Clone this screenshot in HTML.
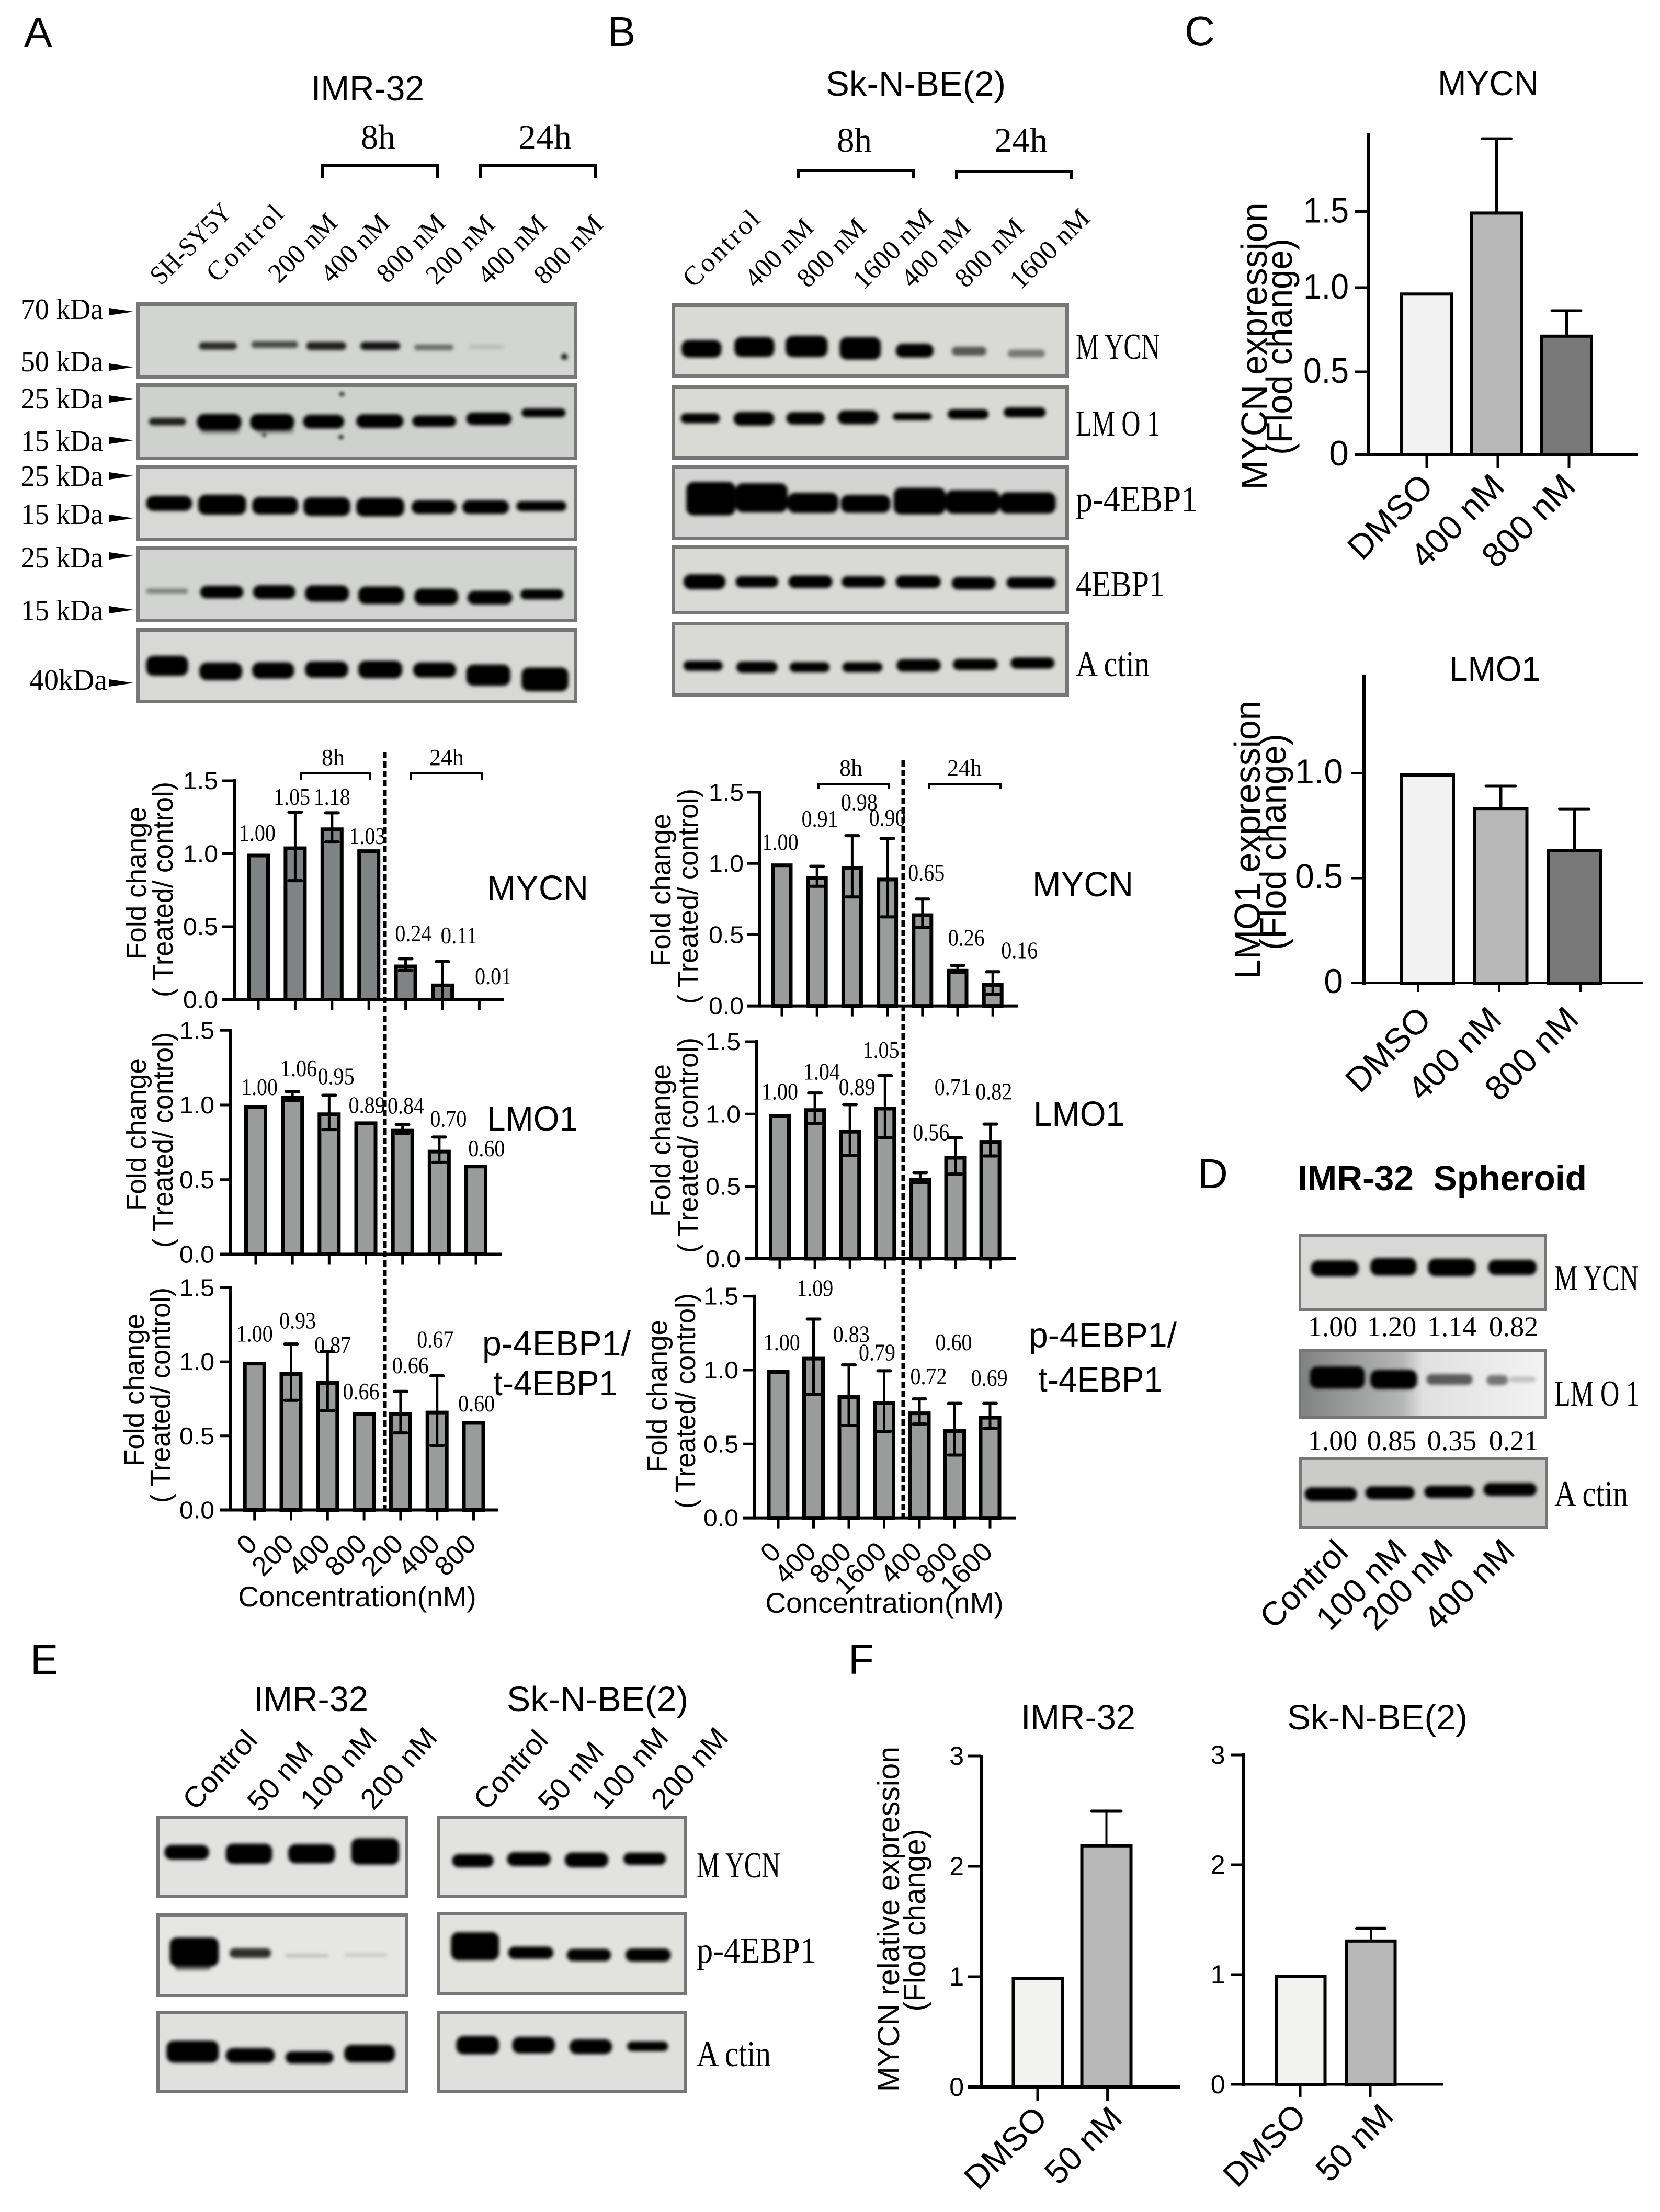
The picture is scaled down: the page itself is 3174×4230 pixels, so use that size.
<!DOCTYPE html>
<html lang="en">
<head>
<meta charset="utf-8">
<title>Western blots and fold change charts</title>
<style>
html,body{margin:0;padding:0;background:#fff;}
svg{display:block;}
text{fill:#000;}
.s{font-family:"Liberation Sans",sans-serif;}
.f{font-family:"Liberation Serif",serif;}
</style>
</head>
<body>
<svg id="fig" xmlns="http://www.w3.org/2000/svg" width="3174" height="4230" viewBox="0 0 3174 4230">
<defs>
<filter id="bl" x="-20%" y="-60%" width="140%" height="220%"><feGaussianBlur stdDeviation="3.5"/></filter>
<linearGradient id="d2g" x1="0" y1="0" x2="1" y2="0"><stop offset="0" stop-color="#7f8181"/><stop offset="0.2" stop-color="#9a9b9b"/><stop offset="0.42" stop-color="#b5b6b6"/><stop offset="0.5" stop-color="#e0e0e0"/><stop offset="1" stop-color="#f3f3f3"/></linearGradient>
</defs>
<rect width="3174" height="4230" fill="#fff"/>
<g id="blots"></g>
<g id="charts"></g>

<g class="s" font-size="80">
<text x="46" y="89">A</text>
<text x="1162" y="88">B</text>
<text x="2265" y="87">C</text>
<text x="2290" y="2272">D</text>
<text x="58" y="3201">E</text>
<text x="1622" y="3201">F</text>
</g>

<g class="s" font-size="67">
<text x="595" y="192" textLength="216" lengthAdjust="spacingAndGlyphs">IMR-32</text>
<text x="1579" y="183" textLength="344" lengthAdjust="spacingAndGlyphs">Sk-N-BE(2)</text>
<text x="2749" y="182" textLength="193" lengthAdjust="spacingAndGlyphs">MYCN</text>
<text x="2771" y="1302" textLength="174" lengthAdjust="spacingAndGlyphs">LMO1</text>
<text x="2481" y="2276" textLength="553" lengthAdjust="spacingAndGlyphs" font-weight="bold">IMR-32&#160;&#160;Spheroid</text>
<text x="485" y="3272" textLength="219" lengthAdjust="spacingAndGlyphs">IMR-32</text>
<text x="969" y="3272" textLength="347" lengthAdjust="spacingAndGlyphs">Sk-N-BE(2)</text>
<text x="1952" y="3307" textLength="219" lengthAdjust="spacingAndGlyphs">IMR-32</text>
<text x="2461" y="3307" textLength="345" lengthAdjust="spacingAndGlyphs">Sk-N-BE(2)</text>
</g>

<g class="f" font-size="66">
<text x="690" y="284" textLength="66" lengthAdjust="spacingAndGlyphs">8h</text>
<text x="991" y="284" textLength="102" lengthAdjust="spacingAndGlyphs">24h</text>
<text x="1600" y="290" textLength="67" lengthAdjust="spacingAndGlyphs">8h</text>
<text x="1901" y="290" textLength="102" lengthAdjust="spacingAndGlyphs">24h</text>
</g>
<g fill="none" stroke="#000" stroke-width="6">
<polyline points="617,341 617,317 836,317 836,341"/>
<polyline points="919,341 919,317 1138,317 1138,341"/>
<polyline points="1527,341 1527,326 1746,326 1746,341"/>
<polyline points="1829,343 1829,328 2049,328 2049,343"/>
</g>

<g class="f" font-size="52" text-anchor="end">
<text transform="translate(446,409) rotate(-45)" textLength="196" lengthAdjust="spacingAndGlyphs">SH-SY5Y</text>
<text transform="translate(545,412) rotate(-45)" textLength="184" lengthAdjust="spacing">Control</text>
<text transform="translate(648,429) rotate(-45)" textLength="162" lengthAdjust="spacingAndGlyphs">200 nM</text>
<text transform="translate(748,429) rotate(-45)" textLength="162" lengthAdjust="spacingAndGlyphs">400 nM</text>
<text transform="translate(855,429) rotate(-45)" textLength="162" lengthAdjust="spacingAndGlyphs">800 nM</text>
<text transform="translate(949,432) rotate(-45)" textLength="162" lengthAdjust="spacingAndGlyphs">200 nM</text>
<text transform="translate(1048,432) rotate(-45)" textLength="162" lengthAdjust="spacingAndGlyphs">400 nM</text>
<text transform="translate(1156,432) rotate(-45)" textLength="162" lengthAdjust="spacingAndGlyphs">800 nM</text>
</g>
<g class="f" font-size="52" text-anchor="end">
<text transform="translate(1456,422) rotate(-45)" textLength="184" lengthAdjust="spacing">Control</text>
<text transform="translate(1559,438) rotate(-45)" textLength="162" lengthAdjust="spacingAndGlyphs">400 nM</text>
<text transform="translate(1659,438) rotate(-45)" textLength="162" lengthAdjust="spacingAndGlyphs">800 nM</text>
<text transform="translate(1787,420) rotate(-45)" textLength="192" lengthAdjust="spacingAndGlyphs">1600 nM</text>
<text transform="translate(1858,438) rotate(-45)" textLength="162" lengthAdjust="spacingAndGlyphs">400 nM</text>
<text transform="translate(1961,438) rotate(-45)" textLength="162" lengthAdjust="spacingAndGlyphs">800 nM</text>
<text transform="translate(2087,420) rotate(-45)" textLength="192" lengthAdjust="spacingAndGlyphs">1600 nM</text>
</g>

<g class="f" font-size="56">
<text x="40" y="610" textLength="157" lengthAdjust="spacingAndGlyphs">70 kDa</text>
<text x="40" y="710" textLength="157" lengthAdjust="spacingAndGlyphs">50 kDa</text>
<text x="40" y="781" textLength="157" lengthAdjust="spacingAndGlyphs">25 kDa</text>
<text x="40" y="862" textLength="157" lengthAdjust="spacingAndGlyphs">15 kDa</text>
<text x="40" y="929" textLength="157" lengthAdjust="spacingAndGlyphs">25 kDa</text>
<text x="40" y="1002" textLength="157" lengthAdjust="spacingAndGlyphs">15 kDa</text>
<text x="40" y="1085" textLength="157" lengthAdjust="spacingAndGlyphs">25 kDa</text>
<text x="40" y="1186" textLength="157" lengthAdjust="spacingAndGlyphs">15 kDa</text>
<text x="56" y="1319" textLength="149" lengthAdjust="spacingAndGlyphs">40kDa</text>
</g>
<g fill="#000">
<polygon points="209,589 255,596 209,603"/>
<polygon points="209,695 255,702 209,709"/>
<polygon points="209,756 255,763 209,770"/>
<polygon points="209,835 255,842 209,849"/>
<polygon points="209,903 255,910 209,917"/>
<polygon points="209,984 255,991 209,998"/>
<polygon points="209,1056 255,1063 209,1070"/>
<polygon points="209,1159 255,1166 209,1173"/>
<polygon points="209,1299 255,1306 209,1313"/>
</g>

<g class="f" font-size="70">
<text x="2057" y="686" textLength="161" lengthAdjust="spacingAndGlyphs">M YCN</text>
<text x="2057" y="833" textLength="161" lengthAdjust="spacingAndGlyphs">LM O 1</text>
<text x="2057" y="978" textLength="233" lengthAdjust="spacingAndGlyphs">p-4EBP1</text>
<text x="2057" y="1140" textLength="170" lengthAdjust="spacingAndGlyphs">4EBP1</text>
<text x="2057" y="1293" textLength="141" lengthAdjust="spacingAndGlyphs">A ctin</text>
<text x="2972" y="2467" textLength="161" lengthAdjust="spacingAndGlyphs">M YCN</text>
<text x="2972" y="2688" textLength="162" lengthAdjust="spacingAndGlyphs">LM O 1</text>
<text x="2972" y="2880" textLength="141" lengthAdjust="spacingAndGlyphs">A ctin</text>
<text x="1332" y="3590" textLength="160" lengthAdjust="spacingAndGlyphs">M YCN</text>
<text x="1332" y="3753" textLength="229" lengthAdjust="spacingAndGlyphs">p-4EBP1</text>
<text x="1332" y="3951" textLength="142" lengthAdjust="spacingAndGlyphs">A ctin</text>
</g>

<g class="f" font-size="54" text-anchor="middle">
<text x="2548" y="2555">1.00</text>
<text x="2661" y="2555">1.20</text>
<text x="2776" y="2555">1.14</text>
<text x="2894" y="2555">0.82</text>
<text x="2548" y="2773">1.00</text>
<text x="2661" y="2773">0.85</text>
<text x="2776" y="2773">0.35</text>
<text x="2894" y="2773">0.21</text>
</g>
<g class="s" font-size="64" text-anchor="end">
<text transform="translate(2581,2972) rotate(-45)">Control</text>
<text transform="translate(2694,2970) rotate(-45)">100 nM</text>
<text transform="translate(2782,2970) rotate(-45)">200 nM</text>
<text transform="translate(2900,2970) rotate(-45)">400 nM</text>
</g>
<g class="s" font-size="56" text-anchor="end">
<text transform="translate(495,3330) rotate(-48)">Control</text>
<text transform="translate(602,3352) rotate(-48)">50 nM</text>
<text transform="translate(724,3325) rotate(-48)">100 nM</text>
<text transform="translate(839,3325) rotate(-48)">200 nM</text>
<text transform="translate(1051,3330) rotate(-48)">Control</text>
<text transform="translate(1158,3352) rotate(-48)">50 nM</text>
<text transform="translate(1281,3325) rotate(-48)">100 nM</text>
<text transform="translate(1395,3325) rotate(-48)">200 nM</text>
</g>

<g class="s" font-size="54" text-anchor="middle">
<text transform="translate(279,1689) rotate(-90)" textLength="292" lengthAdjust="spacingAndGlyphs">Fold change</text>
<text transform="translate(330,1701) rotate(-90)" textLength="412" lengthAdjust="spacingAndGlyphs">( Treated/ control)</text>
<text transform="translate(279,2170) rotate(-90)" textLength="292" lengthAdjust="spacingAndGlyphs">Fold change</text>
<text transform="translate(330,2180) rotate(-90)" textLength="412" lengthAdjust="spacingAndGlyphs">( Treated/ control)</text>
<text transform="translate(275,2658) rotate(-90)" textLength="292" lengthAdjust="spacingAndGlyphs">Fold change</text>
<text transform="translate(325,2668) rotate(-90)" textLength="412" lengthAdjust="spacingAndGlyphs">( Treated/ control)</text>
<text transform="translate(1282,1702) rotate(-90)" textLength="292" lengthAdjust="spacingAndGlyphs">Fold change</text>
<text transform="translate(1334,1714) rotate(-90)" textLength="412" lengthAdjust="spacingAndGlyphs">( Treated/ control)</text>
<text transform="translate(1282,2181) rotate(-90)" textLength="292" lengthAdjust="spacingAndGlyphs">Fold change</text>
<text transform="translate(1334,2190) rotate(-90)" textLength="412" lengthAdjust="spacingAndGlyphs">( Treated/ control)</text>
<text transform="translate(1275,2670) rotate(-90)" textLength="292" lengthAdjust="spacingAndGlyphs">Fold change</text>
<text transform="translate(1329,2679) rotate(-90)" textLength="412" lengthAdjust="spacingAndGlyphs">( Treated/ control)</text>
</g>
<g class="s" font-size="67">
<text x="931" y="1721" textLength="194" lengthAdjust="spacingAndGlyphs">MYCN</text>
<text x="931" y="2162" textLength="174" lengthAdjust="spacingAndGlyphs">LMO1</text>
<text x="922" y="2592" textLength="284" lengthAdjust="spacingAndGlyphs">p-4EBP1/</text>
<text x="943" y="2668" textLength="238" lengthAdjust="spacingAndGlyphs">t-4EBP1</text>
<text x="1974" y="1714" textLength="193" lengthAdjust="spacingAndGlyphs">MYCN</text>
<text x="1976" y="2153" textLength="174" lengthAdjust="spacingAndGlyphs">LMO1</text>
<text x="1967" y="2576" textLength="283" lengthAdjust="spacingAndGlyphs">p-4EBP1/</text>
<text x="1985" y="2661" textLength="238" lengthAdjust="spacingAndGlyphs">t-4EBP1</text>
</g>
<g class="s" font-size="55" text-anchor="middle">
<text x="683" y="3072">Concentration(nM)</text>
<text x="1691" y="3084">Concentration(nM)</text>
</g>
<g class="f" font-size="44" text-anchor="middle">
<text x="637" y="1463">8h</text>
<text x="854" y="1463">24h</text>
<text x="1627" y="1483">8h</text>
<text x="1844" y="1483">24h</text>
</g>
<g fill="none" stroke="#000" stroke-width="4">
<polyline points="575,1491 575,1478 707,1478 707,1491"/>
<polyline points="786,1491 786,1478 921,1478 921,1491"/>
<polyline points="1565,1508 1565,1499 1699,1499 1699,1508"/>
<polyline points="1776,1508 1776,1499 1913,1499 1913,1508"/>
</g>
<g stroke="#000" stroke-width="7" stroke-dasharray="12 6">
<line x1="736" y1="1438" x2="736" y2="2891"/>
<line x1="1727" y1="1454" x2="1727" y2="2901"/>
</g>

<g class="s" text-anchor="middle">
<text transform="translate(2422,662) rotate(-90)" font-size="70" textLength="549" lengthAdjust="spacingAndGlyphs">MYCN expression</text>
<text transform="translate(2470,663) rotate(-90)" font-size="70" textLength="414" lengthAdjust="spacingAndGlyphs">(Flod change)</text>
<text transform="translate(2409,1606) rotate(-90)" font-size="70" textLength="533" lengthAdjust="spacingAndGlyphs">LMO1 expression</text>
<text transform="translate(2458,1610) rotate(-90)" font-size="70" textLength="414" lengthAdjust="spacingAndGlyphs">(Flod change)</text>
<text transform="translate(1719,3670) rotate(-90)" font-size="58" textLength="660" lengthAdjust="spacingAndGlyphs">MYCN relative expression</text>
<text transform="translate(1769,3672) rotate(-90)" font-size="58" textLength="349" lengthAdjust="spacingAndGlyphs">(Flod change)</text>
</g>

<script>
// ---------- chart data ----------
const concA = ['0','200','400','800','200','400','800'];
const concB = ['0','400','800','1600','400','800','1600'];
const foldTicks = [0, 0.5, 1, 1.5];
const foldTickLabels = ['0.0','0.5','1.0','1.5'];

const a1Values = [1.00,1.05,1.18,1.03,0.24,0.11,0.01];
const a1Errors = [0,0.235,0.10,0,0.04,0.15,0];
const a1Printed = ['1.00','1.05','1.18','1.03','0.24','0.11','0.01'];
const a1LabelLevels = [1.087,1.336,1.336,1.067,0.40,0.386,0.105];
const a1LabelShifts = [-0.03,-0.09,0,-0.04,0.21,0.45,0.38];

const a2Values = [1.00,1.06,0.95,0.89,0.84,0.70,0.60];
const a2Errors = [0,0.03,0.115,0,0.03,0.085,0];
const a2Printed = ['1.00','1.06','0.95','0.89','0.84','0.70','0.60'];
const a2LabelLevels = [1.067,1.193,1.139,0.946,0.942,0.854,0.657];
const a2LabelShifts = [0.10,0.17,0.19,0.03,0.09,0.25,0.29];

const a3Values = [1.00,0.93,0.87,0.66,0.66,0.67,0.60];
const a3Errors = [0,0.19,0.20,0,0.14,0.235,0];
const a3Printed = ['1.00','0.93','0.87','0.66','0.66','0.67','0.60'];
const a3LabelLevels = [1.137,1.225,1.06,0.746,0.922,1.098,0.666];
const a3LabelShifts = [0,0.18,0.14,-0.08,0.27,-0.05,0.08];

const b1Values = [1.00,0.91,0.98,0.90,0.65,0.26,0.16];
const b1Errors = [0,0.07,0.215,0.275,0.10,0.025,0.08];
const b1Printed = ['1.00','0.91','0.98','0.90','0.65','0.26','0.16'];
const b1LabelLevels = [1.094,1.257,1.373,1.265,0.879,0.422,0.334];
const b1LabelShifts = [-0.05,0.08,0.2,0,0.11,0.25,0.76];

const b2Values = [1.00,1.04,0.89,1.05,0.56,0.71,0.82];
const b2Errors = [0,0.105,0.175,0.215,0.035,0.125,0.11];
const b2Printed = ['1.00','1.04','0.89','1.05','0.56','0.71','0.82'];
const b2LabelLevels = [1.10,1.238,1.132,1.387,0.819,1.132,1.10];
const b2LabelShifts = [0,0.19,0.2,-0.115,0.31,-0.07,0.1];

const b3Values = [1.00,1.09,0.83,0.79,0.72,0.60,0.69];
const b3Errors = [0,0.255,0.205,0.205,0.085,0.175,0.085];
const b3Printed = ['1.00','1.09','0.83','0.79','0.72','0.60','0.69'];
const b3LabelLevels = [1.135,1.5,1.189,1.066,0.905,1.135,0.894];
const b3LabelShifts = [0.1,0.04,0.07,-0.2,0.26,-0.03,-0.02];

const cCategories = ['DMSO','400 nM','800 nM'];
const c1Values = [1.0,1.5,0.74];
const c1Errors = [0,0.45,0.148];
const c1Ticks = [0,0.51,1.03,1.5];
const c1TickLabels = ['0','0.5','1.0','1.5'];
const c2Values = [1.0,0.84,0.64];
const c2Errors = [0,0.10,0.19];
const c2Ticks = [0,0.5,1];
const c2TickLabels = ['0','0.5','1.0'];

const fCategories = ['DMSO','50 nM'];
const fTicks = [0,1,2,3];
const fTickLabels = ['0','1','2','3'];
const f1Values = [1.0,2.2];
const f1Errors = [0,0.3];
const f2Values = [1.0,1.32];
const f2Errors = [0,0.1];

// ---------- helpers ----------
const NS = 'http://www.w3.org/2000/svg';
function add(parent, tag, attrs, name) {
  const el = document.createElementNS(NS, tag);
  for (const k in attrs) el.setAttribute(k, attrs[k]);
  
  
  parent.appendChild(el);
  return el;
}
function addText(parent, str, attrs, name) {
  const el = add(parent, 'text', attrs, name);
  el.textContent = str;
  return el;
}

// ---------- bar charts ----------
function drawChart(c) {
  const root = add(document.getElementById('charts'), 'g', {}, c.name);
  const yS = v => c.y0 - v * c.unit;
  const barX = i => c.c0 + i * c.step;
  const tickX = i => (c.t0 !== undefined ? c.t0 : c.c0) + i * (c.tStep !== undefined ? c.tStep : c.step);
  // bars
  c.values.forEach((v, i) => {
    const fill = Array.isArray(c.fill) ? c.fill[i] : c.fill;
    const sw = c.barStroke;
    add(root, 'rect', {x: barX(i) - c.barW/2 + sw/2, y: yS(v) + sw/2, width: c.barW - sw,
      height: Math.max(0, c.unit * v - sw/2), fill: fill, stroke: '#000', 'stroke-width': sw}, 'bar');
  });
  // error bars
  c.errors.forEach((e, i) => {
    if (!e) return;
    const v = c.values[i], x = barX(i);
    const lo = c.upperOnly ? v : v - e;
    add(root, 'line', {x1: x, x2: x, y1: yS(v + e), y2: Math.min(yS(lo), c.y0), stroke: '#000', 'stroke-width': c.errW}, 'error-stem');
    add(root, 'line', {x1: x - c.capW/2 + c.capT/2, x2: x + c.capW/2 - c.capT/2, y1: yS(v + e), y2: yS(v + e), stroke: '#000', 'stroke-width': c.capT, 'stroke-linecap': 'round'}, 'error-cap');
    if (!c.upperOnly && yS(lo) < c.y0) add(root, 'line', {x1: x - c.capW/2 + c.capT/2, x2: x + c.capW/2 - c.capT/2, y1: yS(lo), y2: yS(lo), stroke: '#000', 'stroke-width': c.capT, 'stroke-linecap': 'round'}, 'error-cap');
  });
  // axes
  add(root, 'line', {x1: c.axisX, x2: c.axisX, y1: c.top !== undefined ? c.top : yS(c.ticks[c.ticks.length-1]) - 3, y2: c.y0 + 3, stroke: '#000', 'stroke-width': c.axisW}, 'y-axis');
  add(root, 'line', {x1: c.xFrom, x2: c.xTo, y1: c.y0, y2: c.y0, stroke: '#000', 'stroke-width': c.xAxisW || c.axisW}, 'x-axis');
  c.ticks.forEach((t, i) => {
    add(root, 'line', {x1: c.xFrom, x2: c.axisX, y1: yS(t), y2: yS(t), stroke: '#000', 'stroke-width': c.tickW}, 'y-tick');
    const attrs = {x: c.axisX + c.yLabelDx, y: yS(t) + c.yLabelDy, 'text-anchor': 'end', 'font-size': c.yFont, class: 's'};
    const len = c.yLabelLen && c.tickLabels[i].length > 1 ? c.yLabelLen : 0;
    if (len) { attrs.textLength = len; attrs.lengthAdjust = 'spacingAndGlyphs'; }
    addText(root, c.tickLabels[i], attrs, 'y-tick-label');
  });
  c.categories.forEach((cat, i) => {
    const x = tickX(i);
    add(root, 'line', {x1: x, x2: x, y1: c.y0, y2: c.y0 + c.tickLen, stroke: '#000', 'stroke-width': c.tickW}, 'x-tick');
    if (c.showCats) {
      const dx = Array.isArray(c.catDx) ? c.catDx[i] : c.catDx;
      addText(root, cat, {transform: 'translate(' + (x + dx) + ',' + (c.y0 + c.catDy) + ') rotate(-45)', 'text-anchor': 'end', 'font-size': c.catFont, class: 's'}, 'x-tick-label');
    }
  });
  // printed values
  if (c.printed) c.printed.forEach((p, i) => {
    addText(root, p, {x: tickX(i) + c.labelShifts[i] * c.step, y: yS(c.labelLevels[i]), 'text-anchor': 'middle', 'font-size': 45, textLength: 70, lengthAdjust: 'spacingAndGlyphs', class: 'f'}, 'value-label');
  });
}
const foldBase = {ticks: foldTicks, tickLabels: foldTickLabels, barStroke: 7, errW: 5, capW: 30, capT: 6, axisW: 6, tickW: 5, tickLen: 20, yLabelDx: -31, yLabelDy: 16, yFont: 46, yLabelLen: 67, catDx: 8, catDy: 68, catFont: 52, barW: 44};
drawChart({...foldBase, name:'chart-a-mycn', categories:concA, values:a1Values, errors:a1Errors, printed:a1Printed, labelLevels:a1LabelLevels, labelShifts:a1LabelShifts, axisX:448, y0:1911.5, unit:279, c0:494, step:70.4, fill:'#808384', xFrom:425, xTo:964});
drawChart({...foldBase, name:'chart-a-lmo1', categories:concA, values:a2Values, errors:a2Errors, printed:a2Printed, labelLevels:a2LabelLevels, labelShifts:a2LabelShifts, axisX:441, y0:2398.5, unit:285.5, c0:489, step:70.17, fill:'#9a9c9b', xFrom:420, xTo:960});
drawChart({...foldBase, name:'chart-a-p4ebp1', categories:concA, values:a3Values, errors:a3Errors, printed:a3Printed, labelLevels:a3LabelLevels, labelShifts:a3LabelShifts, axisX:441, y0:2887.5, unit:283.4, c0:486.7, step:69.8, fill:'#9a9c9b', xFrom:420, xTo:953, showCats:true});
drawChart({...foldBase, name:'chart-b-mycn', categories:concB, values:b1Values, errors:b1Errors, printed:b1Printed, labelLevels:b1LabelLevels, labelShifts:b1LabelShifts, axisX:1453, y0:1923.6, unit:272.4, c0:1495, step:67.2, barW:41, fill:'#9a9c9b', xFrom:1429, xTo:1946});
drawChart({...foldBase, name:'chart-b-lmo1', categories:concB, values:b2Values, errors:b2Errors, printed:b2Printed, labelLevels:b2LabelLevels, labelShifts:b2LabelShifts, axisX:1447, y0:2407, unit:276.7, c0:1491, step:67.1, barW:42, fill:'#9a9c9b', xFrom:1424, xTo:1943});
drawChart({...foldBase, name:'chart-b-p4ebp1', categories:concB, values:b3Values, errors:b3Errors, printed:b3Printed, labelLevels:b3LabelLevels, labelShifts:b3LabelShifts, axisX:1443, y0:2902.6, unit:282.6, c0:1488, step:67.5, barW:43, fill:'#9a9c9b', xFrom:1420, xTo:1943, showCats:true});

const cFills = ['#f2f2f2','#b8b8b8','#787878'];
drawChart({name:'chart-c-mycn', categories:cCategories, values:c1Values, errors:c1Errors, ticks:c1Ticks, tickLabels:c1TickLabels, axisX:2617, y0:869, unit:309.7, top:255, c0:2728, step:133.5, t0:2728, tStep:136, barW:102, fill:cFills, barStroke:6, errW:6, capW:61, capT:5, upperOnly:true, axisW:6, xAxisW:6, tickW:5, tickLen:25, xFrom:2590, xTo:3132, yLabelDx:-38, yLabelDy:21, yFont:68, yLabelLen:87, showCats:true, catDx:16, catDy:65, catFont:66});
drawChart({name:'chart-c-lmo1', categories:cCategories, values:c2Values, errors:c2Errors, ticks:c2Ticks, tickLabels:c2TickLabels, axisX:2608, y0:1880, unit:401, top:1291, c0:2729, step:140.5, t0:2711, tStep:155.5, barW:106, fill:cFills, barStroke:6, errW:6, capW:62, capT:5, upperOnly:true, axisW:6, xAxisW:4, tickW:4, tickLen:17, xFrom:2583, xTo:3142, yLabelDx:-40, yLabelDy:19, yFont:66, yLabelLen:92, showCats:true, catDx:[29,8,0], catDy:73, catFont:66});
const fFills = ['#f2f2f0','#b8b8b8'];
drawChart({name:'chart-f-imr32', categories:fCategories, values:f1Values, errors:f1Errors, ticks:fTicks, tickLabels:fTickLabels, axisX:1876, y0:3991, unit:211, top:3356, c0:1984.5, step:131, t0:1984, tStep:133.6, barW:100, fill:fFills, barStroke:6, errW:4, capW:62, capT:6, upperOnly:true, axisW:6, xAxisW:7, tickW:5, tickLen:26, xFrom:1850, xTo:2257, yLabelDx:-33, yLabelDy:17, yFont:50, showCats:true, catDx:[22,32], catDy:64, catFont:64});
drawChart({name:'chart-f-sknbe2', categories:fCategories, values:f2Values, errors:f2Errors, ticks:fTicks, tickLabels:fTickLabels, axisX:2377.5, y0:3986, unit:210, top:3352, c0:2487, step:134, t0:2486, tStep:134, barW:99, fill:fFills, barStroke:6, errW:4, capW:60, capT:6, upperOnly:true, axisW:5, xAxisW:5, tickW:5, tickLen:24, xFrom:2353, xTo:2759, yLabelDx:-35, yLabelDy:17, yFont:50, showCats:true, catDx:[15,48], catDy:64, catFont:64});

// ---------- western blot images, approximated with blurred bands ----------
function blot(name, f, bg, border, grow, sx, sy, ox, oy, bands) {
  const root = document.getElementById('blots');
  const g = add(root, 'g', {}, name);
  add(g, 'rect', {x: f[0], y: f[1], width: f[2]-f[0], height: f[3]-f[1], fill: bg}, 'blot-background');
  const bandGroup = add(g, 'g', {filter: 'url(#bl)'}, 'blot-bands');
  bands.forEach(b => {
    const h = b[3] * grow / sy;
    add(bandGroup, 'rect', {x: ox + b[0]/sx, y: oy + b[2]/sy - h/2, width: (b[1]-b[0])/sx, height: h, rx: Math.min(h/2, 14),
      fill: '#000', 'fill-opacity': b[4] === undefined ? 1 : b[4]}, 'protein-band');
  });
  add(g, 'rect', {x: f[0]+border/2, y: f[1]+border/2, width: f[2]-f[0]-border, height: f[3]-f[1]-border, fill: 'none', stroke: '#777', 'stroke-width': border}, 'blot-frame');
}
const sA = [1.3067, 1.12, 0, 0], sB = [1.3067, 1.12, 1150, 0], sD = [1.697, 1.568, 2250, 2180], sE = [0.98, 1.3635, 0, 3080];
blot('blot-a-mycn', [260,578,1104,724], '#d3d5d2', 7, 1.35, ...sA, [[497,592,741,12,.8],[628,745,738,11,.65],[765,865,741,13,.85],[900,1000,741,13,.9],[1035,1133,744,9,.5],[1172,1260,743,7,.12],[1402,1418,764,10,.9]]);
blot('blot-a-lmo1', [260,733,1104,880], '#cfd1ce', 7, 1.35, ...sA, [[372,465,903,12,.85],[492,603,904,26,1],[625,735,904,26,1],[757,860,903,22,1],[890,1008,902,22,1],[1030,1140,902,18,1],[1165,1278,897,20,1],[1303,1413,884,14,1],[848,860,844,6,1],[846,858,936,6,1],[655,665,932,5,.9],[500,600,922,10,.35],[640,735,922,10,.3]]);
blot('blot-a-p4ebp1', [260,889,1104,1035], '#d8d9d6', 7, 1.35, ...sA, [[365,480,1078,24],[495,615,1081,32],[630,745,1083,28],[758,875,1085,30],[890,1010,1086,30],[1028,1140,1086,22],[1155,1272,1086,22],[1290,1415,1084,16]]);
blot('blot-a-4ebp1', [260,1045,1104,1190], '#d2d4d1', 7, 1.35, ...sA, [[365,470,1266,8,.4],[500,608,1268,20],[632,738,1268,22],[762,872,1271,26],[895,1010,1275,28],[1035,1145,1278,26],[1168,1280,1280,22],[1300,1408,1273,16]]);
blot('blot-a-actin', [260,1201,1104,1345], '#d8d9d6', 7, 1.35, ...sA, [[365,470,1426,32],[498,605,1438,28],[630,735,1436,26],[762,870,1434,26],[895,1005,1434,28],[1032,1140,1435,24],[1165,1275,1446,34],[1303,1420,1455,38]]);
blot('blot-b-mycn', [1284,580,2044,723], '#d9d9d6', 7, 1.35, ...sB, [[200,300,747,28],[332,432,743,32],[460,565,742,34],[595,698,746,36],[735,830,751,22],[875,962,752,14,.6],[1015,1108,757,12,.45]]);
blot('blot-b-lmo1', [1284,737,2044,879], '#d9d9d6', 7, 1.35, ...sB, [[198,296,896,16],[330,432,897,22],[462,558,896,20],[590,692,894,22],[728,825,892,12],[865,967,887,16],[1005,1110,883,16]]);
blot('blot-b-p4ebp1', [1284,890,2044,1033], '#d4d5d3', 7, 1.2, ...sB, [[212,335,1068,60],[335,465,1066,52],[465,592,1077,36],[598,722,1079,32],[730,860,1073,48],[860,995,1075,42],[995,1135,1077,38]]);
blot('blot-b-4ebp1', [1284,1042,2044,1175], '#d9d9d6', 7, 1.35, ...sB, [[205,310,1246,24],[335,442,1246,18],[467,577,1246,20],[600,710,1246,18],[735,848,1246,20],[875,985,1249,20],[1012,1135,1248,18]]);
blot('blot-b-actin', [1284,1189,2044,1333], '#d9d9d6', 7, 1.35, ...sB, [[205,303,1426,16],[337,440,1429,18],[470,570,1429,16],[602,702,1429,16],[737,848,1425,20],[878,990,1423,18],[1022,1132,1420,18]]);
blot('blot-d-mycn', [2483,2360,2957,2507], '#d8d9d6', 5, 1.15, ...sD, [[435,590,385,42],[628,778,380,46],[815,970,382,46],[1010,1168,382,40]]);
blot('blot-d-lmo1', [2483,2580,2957,2713], 'url(#d2g)', 5, 1.15, ...sD, [[432,610,712,58],[628,780,718,50],[810,960,718,28,.6],[1005,1075,720,26,.5],[1080,1165,718,14,.2]]);
blot('blot-d-actin', [2484,2786,2960,2923], '#cbccca', 5, 1.15, ...sD, [[415,585,1062,36],[612,772,1058,34],[803,965,1055,32],[995,1168,1048,34]]);
blot('blot-e-imr32-mycn', [299,3472,781,3630], '#e2e3e1', 6, 1.15, ...sE, [[308,392,630,34],[423,510,634,46],[540,628,634,44],[658,748,628,60]]);
blot('blot-e-imr32-p4ebp1', [299,3659,781,3819], '#e6e6e4', 6, 1.15, ...sE, [[318,410,890,66],[328,395,930,14,.5],[430,508,893,22,.8],[535,615,900,7,.2],[645,725,898,7,.15]]);
blot('blot-e-imr32-actin', [299,3846,781,4003], '#e0e1df', 6, 1.15, ...sE, [[312,410,1150,50],[423,515,1160,34],[535,625,1165,28],[645,740,1155,40]]);
blot('blot-e-sknbe2-mycn', [835,3472,1314,3630], '#e2e3e1', 6, 1.15, ...sE, [[847,925,652,30],[950,1032,648,32],[1058,1140,650,34],[1168,1248,647,28]]);
blot('blot-e-sknbe2-p4ebp1', [835,3657,1314,3815], '#e2e3df', 6, 1.15, ...sE, [[845,935,875,64],[952,1037,892,28],[1062,1145,898,28],[1172,1257,898,30]]);
blot('blot-e-sknbe2-actin', [835,3846,1314,4003], '#dfe0de', 6, 1.15, ...sE, [[855,935,1133,42],[960,1040,1133,38],[1067,1147,1137,34],[1175,1252,1136,22]]);
</script>
</svg>
</body>
</html>
